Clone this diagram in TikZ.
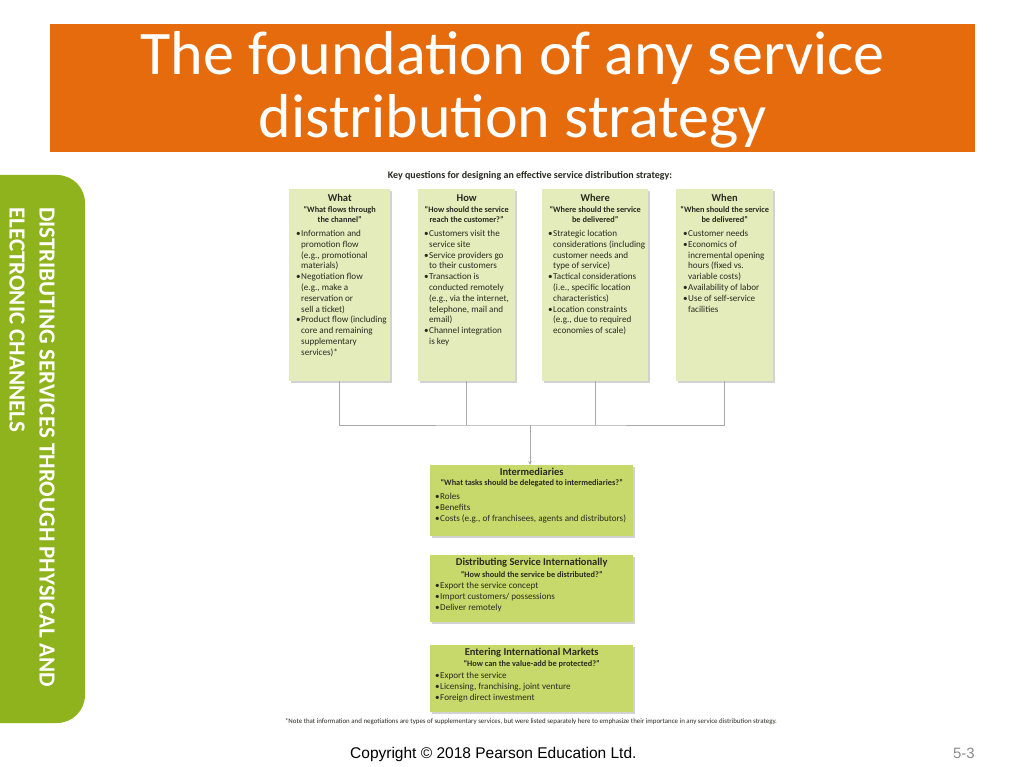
\documentclass[tikz,border=0pt]{standalone}
\usepackage{fontspec}
\setmainfont{Carlito}
\newfontfamily\arialfont{Liberation Sans}
\usetikzlibrary{arrows.meta,positioning,shadows}
\definecolor{banner}{HTML}{E66B0D}
\definecolor{tab}{HTML}{8FB31D}
\definecolor{pale}{HTML}{E4ECBC}
\definecolor{lime}{HTML}{C8D96C}
\definecolor{ink}{HTML}{2A2A20}
\definecolor{wire}{HTML}{A8A8A8}
\definecolor{pg}{HTML}{8C8C8C}
\newcommand{\bul}{\makebox[5pt][l]{\textbullet}}
\newcommand{\ind}{\hspace*{5pt}}
\tikzset{
  qbox/.style={fill=pale,anchor=north west,inner sep=0pt,drop shadow={shadow xshift=1.5pt,shadow yshift=-1.5pt,opacity=0.35}},
  tbox/.style={qbox,fill=lime},
  head/.style={font=\bfseries\fontsize{10.5}{11}\selectfont,color=ink,inner sep=0pt},
  sub/.style={font=\bfseries\fontsize{8.3}{10}\selectfont,color=ink,align=center,inner sep=0pt},
  items/.style={font=\fontsize{9.1}{10.8}\selectfont,color=ink,align=left,anchor=north west,inner sep=0pt},
  link/.style={draw=wire,line width=0.8pt},
  arr/.style={link,-{Stealth[length=4pt,width=3.5pt]}}}

\begin{document}
\begin{tikzpicture}[x=1pt,y=-1pt]
\useasboundingbox (0,0) rectangle (1024,767);
\fill[white] (0,0) rectangle (1024,767);
% title banner
\node[fill=banner,anchor=north west,minimum width=925pt,minimum height=128pt,inner sep=0pt] (banner) at (50,24) {};
\node[font=\fontsize{62}{63}\selectfont,text=white,align=center] (title) at ([yshift=-2pt]banner.center) {The foundation of any service\\distribution strategy};
% side tab
\fill[tab,rounded corners=28pt] (-40,175) rectangle (85,723);
\node[rotate=-90,anchor=north west,align=left,inner sep=0pt,font=\bfseries\fontsize{23}{30}\selectfont,text=white] (side) at (55,207) {DISTRIBUTING SERVICES THROUGH PHYSICAL AND\\ELECTRONIC CHANNELS};

\node[font=\bfseries\fontsize{10}{10}\selectfont,color=ink] (keyq) at (530,176) {Key questions for designing an effective service distribution strategy:};

% four question boxes
\node[qbox,minimum width=101pt,minimum height=192pt] (what) at (289,189) {};
\node[qbox,minimum width=97pt,minimum height=192pt] (how) at (418,189) {};
\node[qbox,minimum width=106pt,minimum height=192pt] (where) at (542,189) {};
\node[qbox,minimum width=97pt,minimum height=192pt] (when) at (676,189) {};

\node[head] (whatH) at ([yshift=-9pt]what.north) {What};
\node[sub] (whatQ) at ([yshift=-25pt]what.north) {``What flows through\\the channel''};
\node[items] (whatL) at ([xshift=7pt,yshift=-41pt]what.north west) {\bul Information and\\\ind promotion flow\\\ind (e.g., promotional\\\ind materials)\\\bul Negotiation flow\\\ind (e.g., make a\\\ind reservation or\\\ind sell a ticket)\\\bul Product flow (including\\\ind core and remaining\\\ind supplementary\\\ind services)*};

\node[head] (howH) at ([yshift=-9pt]how.north) {How};
\node[sub] (howQ) at ([yshift=-25pt]how.north) {``How should the service\\reach the customer?''};
\node[items] (howL) at ([xshift=6pt,yshift=-41pt]how.north west) {\bul Customers visit the\\\ind service site\\\bul Service providers go\\\ind to their customers\\\bul Transaction is\\\ind conducted remotely\\\ind (e.g., via the internet,\\\ind telephone, mail and\\\ind email)\\\bul Channel integration\\\ind is key};

\node[head] (whereH) at ([yshift=-9pt]where.north) {Where};
\node[sub] (whereQ) at ([yshift=-25pt]where.north) {``Where should the service\\be delivered''};
\node[items] (whereL) at ([xshift=6pt,yshift=-41pt]where.north west) {\bul Strategic location\\\ind considerations (including\\\ind customer needs and\\\ind type of service)\\\bul Tactical considerations\\\ind (i.e., specific location\\\ind characteristics)\\\bul Location constraints\\\ind (e.g., due to required\\\ind economies of scale)};

\node[head] (whenH) at ([yshift=-9pt]when.north) {When};
\node[sub] (whenQ) at ([yshift=-25pt]when.north) {``When should the service\\be delivered''};
\node[items] (whenL) at ([xshift=7pt,yshift=-41pt]when.north west) {\bul Customer needs\\\bul Economics of\\\ind incremental opening\\\ind hours (fixed vs.\\\ind variable costs)\\\bul Availability of labor\\\bul Use of self-service\\\ind facilities};

% lower boxes
\node[tbox,minimum width=203pt,minimum height=71pt] (inter) at (430,465) {};
\node[head] (interH) at ([yshift=-7pt]inter.north) {Intermediaries};
\node[sub] (interQ) at ([yshift=-18pt]inter.north) {``What tasks should be delegated to intermediaries?''};
\node[items] (interL) at ([xshift=5pt,yshift=-28pt]inter.north west) {\bul Roles\\\bul Benefits\\\bul Costs (e.g., of franchisees, agents and distributors)};

\node[tbox,minimum width=203pt,minimum height=67pt] (intl) at (430,555) {};
\node[head] (intlH) at ([yshift=-8pt]intl.north) {Distributing Service Internationally};
\node[sub] (intlQ) at ([yshift=-19pt]intl.north) {``How should the service be distributed?''};
\node[items] (intlL) at ([xshift=5pt,yshift=-27pt]intl.north west) {\bul Export the service concept\\\bul Import customers/ possessions\\\bul Deliver remotely};

\node[tbox,minimum width=203pt,minimum height=67pt] (markets) at (430,645) {};
\node[head] (marketsH) at ([yshift=-8pt]markets.north) {Entering International Markets};
\node[sub] (marketsQ) at ([yshift=-19pt]markets.north) {``How can the value-add be protected?''};
\node[items] (marketsL) at ([xshift=5pt,yshift=-27pt]markets.north west) {\bul Export the service\\\bul Licensing, franchising, joint venture\\\bul Foreign direct investment};

% connectors
\coordinate (hub) at (530,425);
\draw[link] (what.south) |- (hub) -| (when.south);
\draw[link] (how.south) -- (how.south |- hub);
\draw[link] (where.south) -- (where.south |- hub);
\draw[arr] (hub) -- (hub |- inter.north);

\node[font=\fontsize{6.9}{7}\selectfont,color=ink] (note) at (531,722) {*Note that information and negotiations are types of supplementary services, but were listed separately here to emphasize their importance in any service distribution strategy.};

\node[font=\arialfont\fontsize{15.5}{16}\selectfont,anchor=base west,inner sep=0pt] (copy) at (350,758) {Copyright © 2018 Pearson Education Ltd.};
\node[font=\arialfont\fontsize{15}{16}\selectfont,text=pg,anchor=base east,inner sep=0pt] (pnum) at (975,758) {5-3};
\end{tikzpicture}
\end{document}
